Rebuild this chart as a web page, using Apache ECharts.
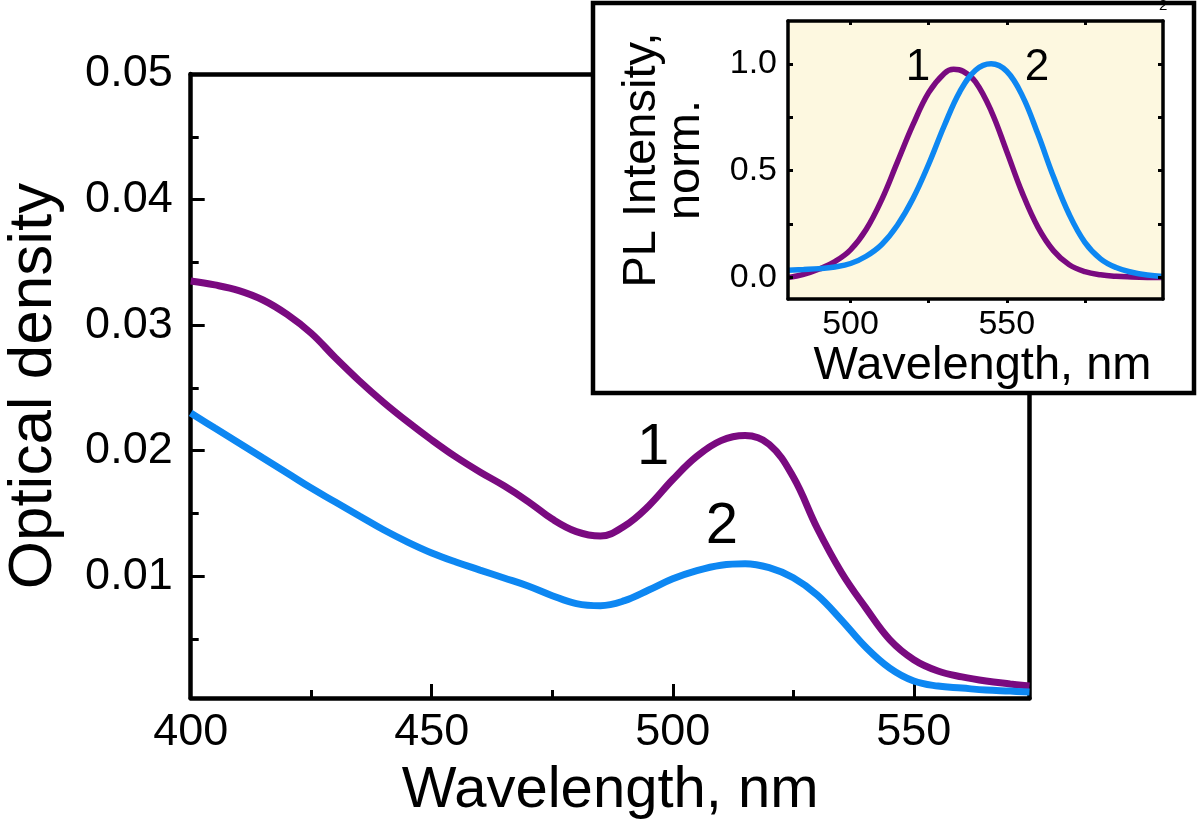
<!DOCTYPE html>
<html>
<head>
<meta charset="utf-8">
<script src="https://cdn.jsdelivr.net/npm/echarts@6/dist/echarts.min.js"></script>
<style>
html,body{margin:0;padding:0;background:#fff;}
#chart{width:1200px;height:825px;}
</style>
</head>
<body>
<div id="chart"></div>
<script>
// ---------- main absorption spectra ----------
const mainWavelength = [400,405,410,415,420,425,430,435,440,445,450,455,460,465,470,475,480,485,490,495,500,505,510,515,520,525,530,535,540,545,550,555,560,565,570,574];
const odCurve1 = [0.03351,0.03320,0.03275,0.03200,0.03085,0.02935,0.02740,0.02555,0.02385,0.02230,0.02085,0.01950,0.01830,0.01720,0.01595,0.01455,0.01355,0.01320,0.01400,0.01560,0.01770,0.01955,0.02080,0.02120,0.02050,0.01790,0.01380,0.01030,0.00750,0.00495,0.00335,0.00245,0.00198,0.00165,0.00142,0.00125];
const odCurve2 = [0.02300,0.02180,0.02061,0.01941,0.01822,0.01702,0.01591,0.01480,0.01370,0.01272,0.01185,0.01113,0.01049,0.00986,0.00922,0.00845,0.00782,0.00765,0.00805,0.00890,0.00980,0.01045,0.01088,0.01100,0.01068,0.00988,0.00850,0.00651,0.00436,0.00268,0.00165,0.00125,0.00109,0.00093,0.00085,0.00077];
const mainXMajor = [400,450,500,550];
const mainXMinor = [425,475,525];
const mainYMajor = [0.01,0.02,0.03,0.04,0.05];
const mainYMinor = [0.005,0.015,0.025,0.035,0.045];
const mainCurveLabels = [[495.9,0.0202,'1'],[510.2,0.0139,'2']];

// ---------- inset PL spectra ----------
const insetWavelength = [480,485,490,495,500,505,510,515,520,525,530,533,536,540,545,550,555,560,565,570,575,580,585,590,595,600];
const plCurve1 = [0.0,0.015,0.04,0.075,0.13,0.225,0.365,0.54,0.715,0.865,0.955,0.974,0.965,0.915,0.78,0.59,0.395,0.235,0.125,0.06,0.028,0.013,0.006,0.003,0.001,0.0];
const plWavelength2 = [480,485,490,495,500,505,510,515,520,525,530,535,540,545,550,555,560,565,570,575,580,585,590,595,600];
const plCurve2 = [0.035,0.038,0.042,0.05,0.066,0.10,0.155,0.245,0.37,0.53,0.71,0.87,0.97,1.0,0.965,0.85,0.67,0.47,0.295,0.165,0.088,0.047,0.025,0.012,0.005];
const insetXTicks = [500,525,550,575];
const insetXLabels = [500,550];
const insetYTicks = [0,0.25,0.5,0.75,1.0];
const insetYLabels = [0,0.5,1.0];
const insetCurveLabels = [[521.6,0.98,'1'],[559.7,0.98,'2']];

const FONT = "'Liberation Sans', Arial, Helvetica, sans-serif";
const PURPLE = '#7a0a80';
const BLUE = '#0d87f2';
const zip = (xs, ys) => xs.map((x, i) => [x, ys[i]]);

const chart = echarts.init(document.getElementById('chart'), null, {renderer: 'canvas'});

const blackLine = w => ({show: true, onZero: false, lineStyle: {color: '#000', width: w}});
const noLine = {show: false, onZero: false};
const noLabel = {show: false};

const option = {
  backgroundColor: '#fff',
  animation: false,
  textStyle: {fontFamily: FONT, color: '#000'},
  grid: [
    {left: 190.7, top: 74, right: 170.5, bottom: 127, outerBoundsMode: 'none', containLabel: false},
    {left: 788, top: 21, right: 37, bottom: 526, show: true, backgroundColor: '#fdf8e0', borderWidth: 0, z: 60, outerBoundsMode: 'none', containLabel: false}
  ],
  xAxis: [
    { // 0 main bottom, major
      type: 'value', gridIndex: 0, min: 400, max: 574, position: 'bottom',
      axisLine: blackLine(4.5),
      axisTick: {show: true, inside: true, length: 14, lineStyle: {width: 3, color: '#000'}, customValues: mainXMajor},
      axisLabel: {show: true, fontSize: 45, color: '#000', fontFamily: FONT, margin: 12, customValues: mainXMajor, formatter: v => String(Math.round(v))},
      splitLine: {show: false},
      name: 'Wavelength, nm', nameLocation: 'middle', nameGap: 64,
      nameTextStyle: {fontSize: 58, color: '#000', fontFamily: FONT}
    },
    { // 1 main bottom, minor ticks
      type: 'value', gridIndex: 0, min: 400, max: 574, position: 'bottom',
      axisLine: noLine,
      axisTick: {show: true, inside: true, length: 8, lineStyle: {width: 3, color: '#000'}, customValues: mainXMinor},
      axisLabel: noLabel, splitLine: {show: false}
    },
    { // 2 main top frame
      type: 'value', gridIndex: 0, min: 400, max: 574, position: 'top',
      axisLine: blackLine(4.5), axisTick: {show: false}, axisLabel: noLabel, splitLine: {show: false}
    },
    { // 3 inset bottom
      type: 'value', gridIndex: 1, min: 480, max: 600, position: 'bottom', z: 63,
      axisLine: blackLine(3.5),
      axisTick: {show: true, inside: false, length: 4, lineStyle: {width: 3, color: '#000'}, customValues: insetXTicks},
      axisLabel: {show: true, fontSize: 34, color: '#000', fontFamily: FONT, margin: 9, customValues: insetXLabels, formatter: v => String(Math.round(v))},
      splitLine: {show: false},
      name: 'Wavelength, nm', nameLocation: 'middle', nameGap: 40,
      nameTextStyle: {fontSize: 47, color: '#000', fontFamily: FONT, padding: [0, 0, 0, 14]}
    },
    { // 4 inset top
      type: 'value', gridIndex: 1, min: 480, max: 600, position: 'top', z: 63,
      axisLine: blackLine(3.5),
      axisTick: {show: true, inside: true, length: 4, lineStyle: {width: 3, color: '#000'}, customValues: insetXTicks},
      axisLabel: noLabel, splitLine: {show: false}
    }
  ],
  yAxis: [
    { // 0 main left major
      type: 'value', gridIndex: 0, min: 0.0003, max: 0.05, position: 'left',
      axisLine: blackLine(4.5),
      axisTick: {show: true, inside: true, length: 14, lineStyle: {width: 3, color: '#000'}, customValues: mainYMajor},
      axisLabel: {show: true, fontSize: 45, color: '#000', fontFamily: FONT, margin: 18, customValues: mainYMajor, formatter: v => v.toFixed(2)},
      splitLine: {show: false},
      name: 'Optical density', nameLocation: 'middle', nameGap: 126,
      nameTextStyle: {fontSize: 62, color: '#000', fontFamily: FONT, padding: [0, 0, 0, 0]}
    },
    { // 1 main left minor
      type: 'value', gridIndex: 0, min: 0.0003, max: 0.05, position: 'left',
      axisLine: noLine,
      axisTick: {show: true, inside: true, length: 8, lineStyle: {width: 3, color: '#000'}, customValues: mainYMinor},
      axisLabel: noLabel, splitLine: {show: false}
    },
    { // 2 main right frame
      type: 'value', gridIndex: 0, min: 0.0003, max: 0.05, position: 'right',
      axisLine: blackLine(4.5), axisTick: {show: false}, axisLabel: noLabel, splitLine: {show: false}
    },
    { // 3 inset left
      type: 'value', gridIndex: 1, min: -0.1, max: 1.2, position: 'left', z: 63,
      axisLine: blackLine(3.5),
      axisTick: {show: true, inside: true, length: 5, lineStyle: {width: 3, color: '#000'}, customValues: insetYTicks},
      axisLabel: {show: true, fontSize: 34, color: '#000', fontFamily: FONT, margin: 11, customValues: insetYLabels, formatter: v => v.toFixed(1)},
      splitLine: {show: false},
      name: 'PL Intensity,\nnorm.', nameLocation: 'middle', nameGap: 80,
      nameTextStyle: {fontSize: 47, lineHeight: 44, color: '#000', fontFamily: FONT, align: 'center'}
    },
    { // 4 inset right
      type: 'value', gridIndex: 1, min: -0.1, max: 1.2, position: 'right', z: 63,
      axisLine: blackLine(3.5),
      axisTick: {show: true, inside: true, length: 5, lineStyle: {width: 3, color: '#000'}, customValues: insetYTicks},
      axisLabel: noLabel, splitLine: {show: false}
    }
  ],
  graphic: [
    {type: 'rect', z: 50, shape: {x: 593, y: 3, width: 601, height: 390},
      style: {fill: '#fff', stroke: '#000', lineWidth: 4.5}},
    {type: 'text', z: 70, x: 1159, y: -2, style: {text: '2', fontSize: 15, fill: '#000', font: '15px ' + FONT}}
  ],
  series: [
    {type: 'line', name: '1', xAxisIndex: 0, yAxisIndex: 0, data: zip(mainWavelength, odCurve1),
      smooth: 0.4, showSymbol: false, lineStyle: {color: PURPLE, width: 7}, z: 3},
    {type: 'line', name: '2', xAxisIndex: 0, yAxisIndex: 0, data: zip(mainWavelength, odCurve2),
      smooth: 0.4, showSymbol: false, lineStyle: {color: BLUE, width: 7}, z: 3},
    {type: 'scatter', xAxisIndex: 0, yAxisIndex: 0, data: mainCurveLabels, symbolSize: 1,
      itemStyle: {color: 'rgba(0,0,0,0)', opacity: 1}, z: 4,
      label: {show: true, position: 'inside', formatter: p => p.data[2], fontSize: 58, color: '#000', opacity: 1, fontFamily: FONT}},
    {type: 'line', name: 'PL1', xAxisIndex: 3, yAxisIndex: 3, data: zip(insetWavelength, plCurve1),
      smooth: 0.4, showSymbol: false, lineStyle: {color: PURPLE, width: 5.5}, z: 62},
    {type: 'line', name: 'PL2', xAxisIndex: 3, yAxisIndex: 3, data: zip(plWavelength2, plCurve2),
      smooth: 0.4, showSymbol: false, lineStyle: {color: BLUE, width: 5.5}, z: 62},
    {type: 'scatter', xAxisIndex: 3, yAxisIndex: 3, data: insetCurveLabels, symbolSize: 1,
      itemStyle: {color: 'rgba(0,0,0,0)', opacity: 1}, z: 64,
      label: {show: true, position: 'inside', formatter: p => p.data[2], fontSize: 44, color: '#000', opacity: 1, fontFamily: FONT}}
  ]
};
chart.setOption(option);
</script>
</body>
</html>
